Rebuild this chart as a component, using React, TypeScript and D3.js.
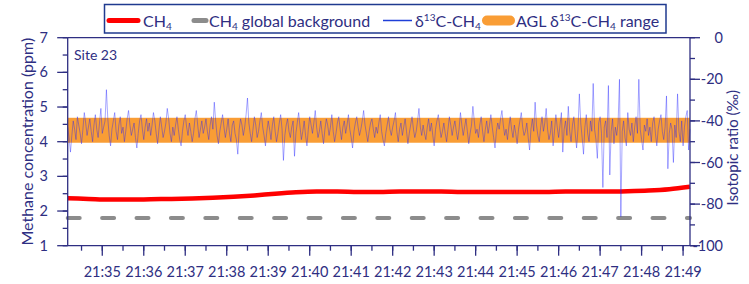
import * as d3 from 'd3';

// time span of the record
const startTime = new Date(2020, 0, 1, 21, 34, 10);
const endTime = new Date(2020, 0, 1, 21, 49, 10);

// CH4 (ppm), one reading every 30 s
const ch4StepSec = 30;
const ch4Values = [
	2.37, 2.35, 2.33, 2.33, 2.34, 2.35, 2.36, 2.38, 2.41, 2.45, 2.5, 2.54, 2.56, 2.56, 2.55, 2.55,
	2.56, 2.56, 2.56, 2.55, 2.55, 2.55, 2.55, 2.55, 2.56, 2.56, 2.56, 2.57, 2.59, 2.63, 2.7,
];

// CH4 global background (ppm)
const ch4Background = 1.8;

// d13C-CH4 (permil), one reading every 2 s
const d13cStepSec = 2;
const d13cValues = [
	-43, -48, -55, -47, -40, -44, -49, -38, -42, -46, -51, -44, -36, -41, -47, -43, -39, -45, -50, -42,
	-37, -44, -48, -41, -34, -46, -43, -40, -25, -39, -47, -52, -44, -40, -36, -45, -49, -42, -38, -46,
	-43, -50, -45, -39, -35, -42, -47, -44, -41, -48, -53, -46, -40, -37, -44, -49, -43, -39, -45, -41,
	-47, -42, -36, -40, -46, -51, -44, -38, -43, -48, -45, -41, -34, -39, -46, -50, -43, -47, -42, -38,
	-44, -49, -52, -45, -40, -37, -43, -47, -41, -45, -50, -46, -39, -35, -42, -48, -44, -40, -46, -43,
	-39, -45, -49, -42, -38, -44, -31, -40, -47, -51, -45, -41, -37, -43, -48, -44, -39, -46, -50, -42,
	-40, -46, -49, -56, -44, -39, -42, -47, -43, -37, -29, -41, -46, -50, -44, -38, -42, -48, -45, -40,
	-36, -43, -47, -52, -45, -40, -44, -49, -42, -38, -45, -50, -46, -41, -37, -44, -59, -47, -42, -39,
	-45, -48, -43, -40, -57, -46, -41, -36, -43, -49, -45, -40, -47, -52, -44, -38, -42, -46, -41, -35,
	-43, -48, -45, -40, -46, -51, -44, -39, -42, -47, -43, -37, -45, -50, -46, -41, -38, -44, -49, -43,
	-40, -46, -42, -37, -44, -48, -53, -45, -41, -38, -43, -47, -44, -40, -35, -42, -46, -50, -45, -41,
	-39, -44, -48, -43, -46, -41, -37, -45, -49, -52, -46, -42, -38, -44, -47, -43, -40, -36, -45, -50,
	-44, -41, -47, -43, -39, -45, -51, -46, -42, -38, -44, -48, -45, -40, -34, -43, -47, -42, -46, -49,
	-43, -39, -45, -41, -47, -52, -44, -40, -37, -43, -48, -45, -41, -46, -50, -44, -38, -42, -47, -43,
	-40, -45, -49, -44, -36, -42, -47, -43, -39, -45, -51, -46, -42, -33, -40, -46, -44, -48, -42, -38,
	-45, -50, -44, -40, -46, -42, -37, -43, -48, -53, -45, -41, -44, -39, -35, -42, -47, -44, -49, -43,
	-38, -44, -48, -42, -46, -51, -44, -40, -36, -43, -47, -45, -41, -48, -54, -44, -39, -45, -31, -42,
	-47, -50, -43, -38, -45, -41, -34, -44, -49, -46, -40, -52, -45, -37, -43, -48, -42, -36, -55, -44,
	-40, -47, -33, -45, -50, -42, -38, -46, -53, -44, -27, -41, -48, -56, -43, -37, -46, -50, -40, -45,
	-22, -44, -49, -58, -41, -38, -46, -72, -43, -40, -48, -23, -66, -45, -39, -51, -43, -47, -41, -20,
	-86, -45, -40, -48, -52, -36, -44, -47, -41, -50, -43, -38, -46, -20, -44, -49, -54, -42, -45, -39,
	-47, -43, -50, -41, -38, -46, -52, -44, -40, -37, -45, -49, -43, -28, -63, -46, -41, -44, -60, -42,
	-48, -27, -45, -50, -40, -52, -43, -38, -35, -54, -44,
];

// AGL d13C-CH4 range (permil)
const aglRange = [-50.5, -38.5];

const leftTicks = [1, 2, 3, 4, 5, 6, 7];
const rightTicks = [0, -20, -40, -60, -80, -100];

const W = 749;
const H = 284;
const plot = {left: 67.7, right: 690, top: 37.7, bottom: 245.7};
const axisColor = '#2e2e82';
const font = 'Lato, "Liberation Sans", sans-serif';

export default function App() {
	const x = d3.scaleTime().domain([startTime, endTime]).range([plot.left, plot.right]);
	const yL = d3.scaleLinear().domain([1, 7]).range([plot.bottom, plot.top]);
	const yR = d3.scaleLinear().domain([-100, 0]).range([plot.bottom, plot.top]);

	const ch4 = ch4Values.map((v, i) => ({t: new Date(+startTime + i * ch4StepSec * 1000), v}));
	const d13c = d13cValues.map((v, i) => ({t: new Date(+startTime + i * d13cStepSec * 1000), v}));

	const ch4Line = d3
		.line<{t: Date; v: number}>()
		.x((d) => x(d.t))
		.y((d) => yL(d.v))
		.curve(d3.curveMonotoneX);
	const d13cLine = d3
		.line<{t: Date; v: number}>()
		.x((d) => x(d.t))
		.y((d) => yR(d.v));

	const majorX = x.ticks(d3.timeMinute.every(1)!);
	const minorX = x.ticks(d3.timeSecond.every(30)!);
	const fmt = d3.timeFormat('%H:%M');

	const minorL = d3.range(1, 7.01, 0.5);
	const minorR = d3.range(-100, 0.01, 10);

	return (
		<svg width={W} height={H} style={{position: 'absolute', left: 0, top: 0}} fontFamily={font}>
			<rect width={W} height={H} fill="#fff" />

			{/* AGL range band */}
			<rect
				x={plot.left}
				width={plot.right - plot.left}
				y={yR(aglRange[1])}
				height={yR(aglRange[0]) - yR(aglRange[1])}
				fill="#f99d35"
			/>

			{/* CH4 */}
			<path d={ch4Line(ch4)!} fill="none" stroke="#ff0000" strokeWidth={4.5} />

			{/* background */}
			<line
				x1={x(startTime)}
				x2={x(endTime)}
				y1={yL(ch4Background)}
				y2={yL(ch4Background)}
				stroke="#8c8c8c"
				strokeWidth={4}
				strokeDasharray="12 22.4"
				strokeLinecap="round"
			/>

			{/* d13C */}
			<path d={d13cLine(d13c)!} fill="none" stroke="#1a1aff" strokeOpacity={0.38} strokeWidth={1} />

			{/* frame */}
			<g stroke={axisColor} strokeWidth={1.3} fill="none">
				<line x1={plot.left} x2={plot.left} y1={plot.top} y2={plot.bottom} />
				<line x1={plot.right} x2={plot.right} y1={plot.top} y2={plot.bottom} />
				<line x1={plot.left} x2={plot.right} y1={plot.top} y2={plot.top} />
				<line x1={plot.left} x2={plot.right} y1={plot.bottom} y2={plot.bottom} />
				{minorX.map((t, i) => (
					<line key={'mx' + i} x1={x(t)} x2={x(t)} y1={plot.bottom} y2={plot.bottom + 5} />
				))}
				{majorX.map((t, i) => (
					<line key={'Mx' + i} x1={x(t)} x2={x(t)} y1={plot.bottom} y2={plot.bottom + 10} />
				))}
				{minorL.map((v, i) => (
					<line key={'ml' + i} x1={plot.left - 5} x2={plot.left} y1={yL(v)} y2={yL(v)} />
				))}
				{leftTicks.map((v) => (
					<line key={'Ml' + v} x1={plot.left - 10.5} x2={plot.left} y1={yL(v)} y2={yL(v)} />
				))}
				{minorR.map((v, i) => (
					<line key={'mr' + i} x1={plot.right} x2={plot.right + 5} y1={yR(v)} y2={yR(v)} />
				))}
				{rightTicks.map((v) => (
					<line key={'Mr' + v} x1={plot.right} x2={plot.right + 10} y1={yR(v)} y2={yR(v)} />
				))}
			</g>

			<g fill={axisColor} fontSize={14.5}>
				{majorX.map((t, i) => (
					<text key={'lx' + i} x={x(t)} y={277} textAnchor="middle">
						{fmt(t)}
					</text>
				))}
				{leftTicks.map((v) => (
					<text key={'ll' + v} x={48} y={yL(v) + 5} textAnchor="end">
						{v}
					</text>
				))}
				{rightTicks.map((v) => (
					<text key={'lr' + v} x={723} y={yR(v) + 5} textAnchor="end">
						{v}
					</text>
				))}
				<text x={74} y={60} fontSize={14}>
					Site 23
				</text>
			</g>

			<text
				transform={`translate(33,${(plot.top + plot.bottom) / 2}) rotate(-90)`}
				textAnchor="middle"
				fill={axisColor}
				fontSize={16}
			>
				Methane concentration (ppm)
			</text>
			<text
				transform={`translate(738,${(plot.top + plot.bottom) / 2 + 6}) rotate(-90)`}
				textAnchor="middle"
				fill={axisColor}
				fontSize={15}
			>
				Isotopic ratio (‰)
			</text>

			{/* legend */}
			<rect x={104.5} y={4.5} width={561.5} height={28.5} fill="#fff" stroke="#1f3a8f" strokeWidth={1.5} />
			<line x1={109} x2={138} y1={20.5} y2={20.5} stroke="#ff0000" strokeWidth={5} strokeLinecap="round" />
			<line x1={194} x2={206} y1={20.5} y2={20.5} stroke="#8c8c8c" strokeWidth={5} strokeLinecap="round" />
			<line x1={383} x2={412} y1={20.5} y2={20.5} stroke="#1f3fd8" strokeWidth={1.5} />
			<line x1={487} x2={510} y1={20.5} y2={20.5} stroke="#f99d35" strokeWidth={10} strokeLinecap="round" />
			<g fill={axisColor} fontSize={16}>
				<text x={143} y={26.5}>
					CH<tspan fontSize={10} dy={3}>4</tspan>
				</text>
				<text x={209} y={26.5}>
					CH<tspan fontSize={10} dy={3}>4</tspan>
					<tspan dy={-3}> global background</tspan>
				</text>
				<text x={415} y={26.5}>
					δ<tspan fontSize={10} dy={-6}>13</tspan>
					<tspan dy={6}>C-CH</tspan>
					<tspan fontSize={10} dy={3}>4</tspan>
				</text>
				<text x={516} y={26.5}>
					AGL δ<tspan fontSize={10} dy={-6}>13</tspan>
					<tspan dy={6}>C-CH</tspan>
					<tspan fontSize={10} dy={3}>4</tspan>
					<tspan dy={-3}> range</tspan>
				</text>
			</g>
		</svg>
	);
}
